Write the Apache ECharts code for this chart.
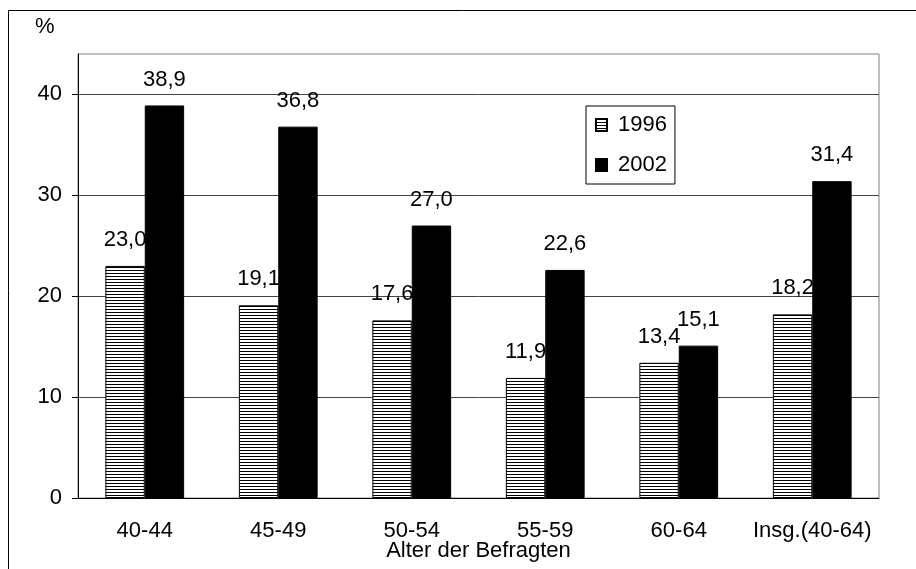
<!DOCTYPE html>
<html lang="de" style="height: 100%">
<head>
    <meta charset="UTF-8">
    <script src="https://cdn.jsdelivr.net/npm/echarts@6/dist/echarts.min.js"></script>
    <title>Alter der Befragten</title>
</head>
<body style="height: 100%; margin: 0; background: #fff">
<div id="main" style="width: 916px; height: 569px"></div>
<script>
    var ageGroups = ['40-44', '45-49', '50-54', '55-59', '60-64', 'Insg.(40-64)'];
    var values1996 = [23.0, 19.1, 17.6, 11.9, 13.4, 18.2];
    var values2002 = [38.9, 36.8, 27.0, 22.6, 15.1, 31.4];
    var yTicks = [0, 10, 20, 30, 40];

    var fontName = '"Liberation Sans", Arial, sans-serif';

    // horizontale Schraffur fuer 1996
    var hatch = document.createElement('canvas');
    hatch.width = 4;
    hatch.height = 3;
    var ctx = hatch.getContext('2d');
    ctx.fillStyle = '#fff';
    ctx.fillRect(0, 0, 4, 3);
    ctx.fillStyle = '#000';
    ctx.fillRect(0, 0, 4, 1);

    function fmt(p) {
        return p.value.toFixed(1).replace('.', ',');
    }

    var myChart = echarts.init(document.getElementById('main'));
    var option = {
        backgroundColor: '#fff',
        animation: false,
        textStyle: {fontFamily: fontName},
        title: {
            text: '%',
            left: 35,
            top: 16,
            padding: 0,
            textStyle: {fontSize: 22, fontWeight: 'normal', color: '#000', fontFamily: fontName}
        },
        graphic: [{
            type: 'rect',
            shape: {x: 8.5, y: 10.5, width: 1000, height: 1000},
            style: {fill: 'none', stroke: '#000', lineWidth: 1},
            silent: true
        }],
        legend: {
            orient: 'vertical',
            left: 586,
            top: 106,
            padding: [8, 8, 8, 9],
            itemGap: 18,
            itemWidth: 11,
            itemHeight: 12,
            icon: 'rect',
            borderColor: '#000',
            borderWidth: 1,
            textStyle: {fontSize: 22, color: '#000', fontFamily: fontName, padding: [0, 0, 0, 6]},
            data: ['1996', '2002']
        },
        grid: {
            left: 78,
            right: 37,
            top: 54,
            bottom: 71,
            outerBoundsMode: 'none',
            show: true,
            borderColor: '#808080',
            borderWidth: 1
        },
        xAxis: {
            type: 'category',
            data: ageGroups,
            name: 'Alter der Befragten',
            nameLocation: 'middle',
            nameGap: 42,
            nameMoveOverlap: false,
            nameTextStyle: {fontSize: 22, color: '#000', fontFamily: fontName},
            axisLine: {lineStyle: {color: '#000', width: 1}},
            axisTick: {length: 6, lineStyle: {color: '#000'}},
            axisLabel: {fontSize: 22, color: '#000', margin: 22, fontFamily: fontName, interval: 0}
        },
        yAxis: {
            type: 'value',
            min: 0,
            max: 44,
            interval: 10,
            axisLine: {show: true, lineStyle: {color: '#000', width: 1}},
            axisTick: {show: true, length: 6, lineStyle: {color: '#000'}, customValues: yTicks},
            axisLabel: {fontSize: 22, color: '#000', margin: 16, fontFamily: fontName, customValues: yTicks},
            splitLine: {lineStyle: {color: '#444', width: 1}}
        },
        series: [
            {
                name: '1996',
                type: 'bar',
                z: 2,
                data: values1996,
                barGap: '0%',
                barCategoryGap: '41%',
                itemStyle: {
                    color: {image: hatch, repeat: 'repeat'},
                    borderColor: '#000',
                    borderWidth: 1
                },
                label: {
                    show: true,
                    position: 'top',
                    distance: 15,
                    fontSize: 22,
                    color: '#000',
                    fontFamily: fontName,
                    formatter: fmt
                }
            },
            {
                name: '2002',
                type: 'bar',
                z: 3,
                data: values2002,
                itemStyle: {
                    color: '#000',
                    borderColor: '#000',
                    borderWidth: 1
                },
                label: {
                    show: true,
                    position: 'top',
                    distance: 15,
                    fontSize: 22,
                    color: '#000',
                    fontFamily: fontName,
                    formatter: fmt
                }
            }
        ]
    };
    myChart.setOption(option);
</script>
</body>
</html>
